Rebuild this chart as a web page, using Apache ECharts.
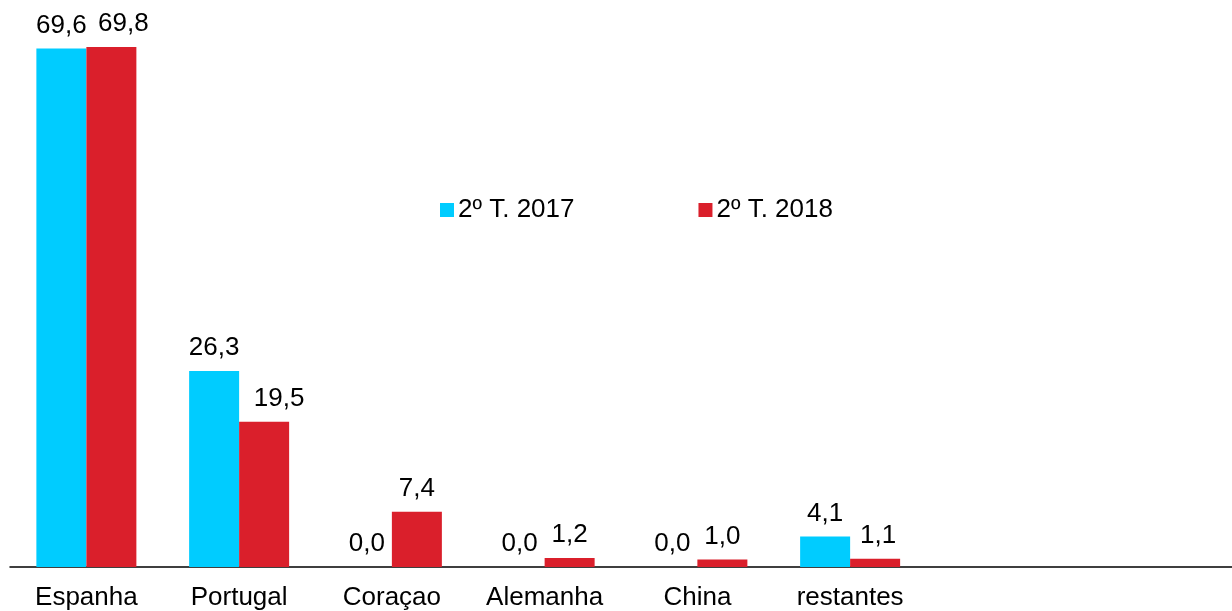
<!DOCTYPE html>
<html>
<head>
<meta charset="utf-8">
<script src="https://cdn.jsdelivr.net/npm/echarts@6/dist/echarts.min.js"></script>
<style>
    html, body { margin: 0; padding: 0; background: #fff; }
    #chart { width: 1232px; height: 611px; }
</style>
</head>
<body>
<div id="chart"></div>
<script>
    // categories (the last two slots are empty in the original)
    var categories = ['Espanha', 'Portugal', 'Coraçao', 'Alemanha', 'China', 'restantes', '', ''];
    var seriesNames = ['2º T. 2017', '2º T. 2018'];
    var values2017 = [69.6, 26.3, 0.0, 0.0, 0.0, 4.1];
    var values2018 = [69.8, 19.5, 7.4, 1.2, 1.0, 1.1];
    var colors = ['#00CCFF', '#DA1F2B'];

    var font = 'Liberation Sans, Arial, sans-serif';

    var labelOpt = {
        show: true,
        position: 'top',
        distance: 10,
        color: '#000',
        fontFamily: font,
        fontSize: 26,
        formatter: function (p) {
            return p.value.toFixed(1).replace('.', ',');
        }
    };

    // some 2018 labels are nudged right in the original so they don't collide
    var shift2018 = { 0: 12, 1: 15, 5: 3 };
    var data2018 = values2018.map(function (v, i) {
        if (shift2018[i]) {
            return { value: v, label: { offset: [shift2018[i], 0] } };
        }
        return v;
    });

    var chart = echarts.init(document.getElementById('chart'));
    chart.setOption({
        animation: false,
        color: colors,
        legend: {
            left: 435,
            top: 192,
            icon: 'rect',
            itemWidth: 14,
            itemHeight: 14,
            itemGap: 124,
            textStyle: { fontFamily: font, fontSize: 26, color: '#000', padding: [0, 0, 0, -1] },
            data: seriesNames
        },
        grid: { left: 10, right: 0, top: 45.5, bottom: 44, containLabel: false },
        xAxis: {
            type: 'category',
            data: categories,
            axisLine: { lineStyle: { color: '#000', width: 1.5 } },
            axisTick: { show: false },
            axisLabel: { color: '#000', fontFamily: font, fontSize: 26, margin: 18, interval: 0 }
        },
        yAxis: {
            type: 'value',
            min: 0,
            max: 70,
            show: false,
            splitLine: { show: false }
        },
        series: [
            {
                name: seriesNames[0],
                type: 'bar',
                data: values2017,
                barWidth: 50,
                barGap: '0%',
                label: labelOpt
            },
            {
                name: seriesNames[1],
                type: 'bar',
                data: data2018,
                barWidth: 50,
                barGap: '0%',
                label: labelOpt
            }
        ]
    });
</script>
</body>
</html>
